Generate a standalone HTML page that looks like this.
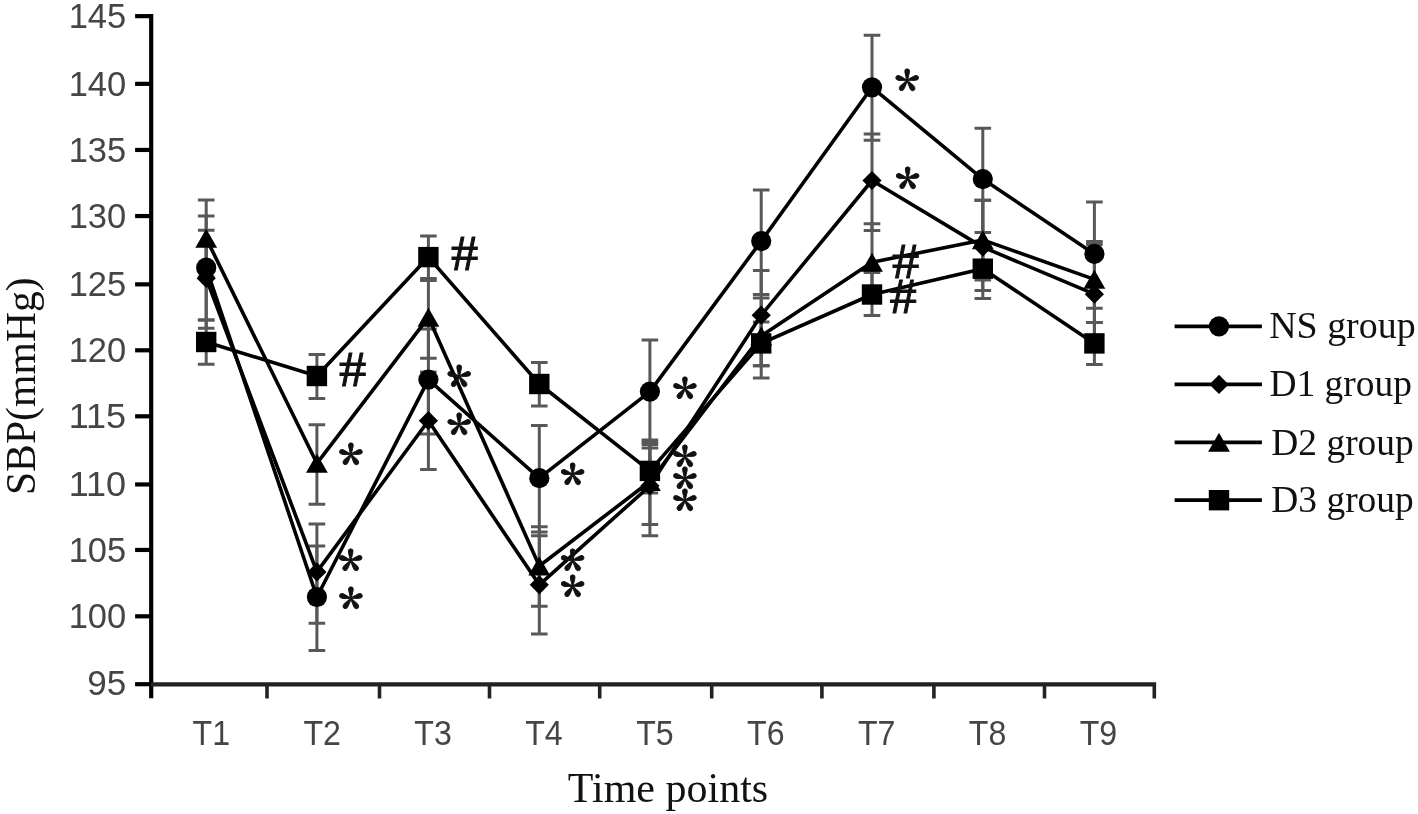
<!DOCTYPE html>
<html lang="en"><head><meta charset="utf-8"><title>SBP chart</title>
<style>html,body{margin:0;padding:0;background:#fff}svg{display:block}.tk{font-family:"Liberation Sans",sans-serif;font-size:35px;fill:#454545}.se{font-family:"Liberation Serif",serif;fill:#111}.st{font-family:"Noto Serif CJK SC","Liberation Serif",serif;font-size:50px;font-weight:bold;fill:#111;stroke:#111;stroke-width:0.9px}</style></head><body>
<svg width="1418" height="814" viewBox="0 0 1418 814">
<rect width="1418" height="814" fill="#fff"/>
<g stroke="#000" stroke-width="4.2" fill="none">
<path d="M151.2 14.1 V698.3"/>
<path d="M135.1 16.15 H151.0"/>
<path d="M135.1 83.85 H151.0"/>
<path d="M135.1 149.95 H151.0"/>
<path d="M135.1 216.05 H151.0"/>
<path d="M135.1 284.35 H151.0"/>
<path d="M135.1 350.30 H151.0"/>
<path d="M135.1 416.30 H151.0"/>
<path d="M135.1 484.45 H151.0"/>
<path d="M135.1 549.95 H151.0"/>
<path d="M135.1 616.30 H151.0"/>
<path d="M135.1 684.20 H151.0"/>
</g>
<g stroke="#222" fill="none">
<path d="M151.0 684.3 H1156.1" stroke-width="4.2"/>
<path d="M267 684.3 V698.5" stroke-width="3.6"/>
<path d="M379.5 684.3 V698.5" stroke-width="3.6"/>
<path d="M489.5 684.3 V698.5" stroke-width="3.6"/>
<path d="M599.7 684.3 V698.5" stroke-width="3.6"/>
<path d="M711.7 684.3 V698.5" stroke-width="3.6"/>
<path d="M821.9 684.3 V698.5" stroke-width="3.6"/>
<path d="M933.9 684.3 V698.5" stroke-width="3.6"/>
<path d="M1044.5 684.3 V698.5" stroke-width="3.6"/>
<path d="M1154.3 684.3 V698.5" stroke-width="3.6"/>
</g>
<text class="tk" x="126.2" y="28.1" text-anchor="end" textLength="57.5" lengthAdjust="spacingAndGlyphs">145</text>
<text class="tk" x="126.2" y="95.8" text-anchor="end" textLength="57.5" lengthAdjust="spacingAndGlyphs">140</text>
<text class="tk" x="126.2" y="161.9" text-anchor="end" textLength="57.5" lengthAdjust="spacingAndGlyphs">135</text>
<text class="tk" x="126.2" y="228.1" text-anchor="end" textLength="57.5" lengthAdjust="spacingAndGlyphs">130</text>
<text class="tk" x="126.2" y="296.4" text-anchor="end" textLength="57.5" lengthAdjust="spacingAndGlyphs">125</text>
<text class="tk" x="126.2" y="362.3" text-anchor="end" textLength="57.5" lengthAdjust="spacingAndGlyphs">120</text>
<text class="tk" x="126.2" y="428.3" text-anchor="end" textLength="57.5" lengthAdjust="spacingAndGlyphs">115</text>
<text class="tk" x="126.2" y="496.4" text-anchor="end" textLength="57.5" lengthAdjust="spacingAndGlyphs">110</text>
<text class="tk" x="126.2" y="562.0" text-anchor="end" textLength="57.5" lengthAdjust="spacingAndGlyphs">105</text>
<text class="tk" x="126.2" y="628.3" text-anchor="end" textLength="57.5" lengthAdjust="spacingAndGlyphs">100</text>
<text class="tk" x="126.2" y="695.0" text-anchor="end" textLength="39" lengthAdjust="spacingAndGlyphs">95</text>
<text class="tk" x="211.3" y="745.3" text-anchor="middle" textLength="37.5" lengthAdjust="spacingAndGlyphs">T1</text>
<text class="tk" x="322.2" y="745.3" text-anchor="middle" textLength="37.5" lengthAdjust="spacingAndGlyphs">T2</text>
<text class="tk" x="433.1" y="745.3" text-anchor="middle" textLength="37.5" lengthAdjust="spacingAndGlyphs">T3</text>
<text class="tk" x="544.0" y="745.3" text-anchor="middle" textLength="37.5" lengthAdjust="spacingAndGlyphs">T4</text>
<text class="tk" x="654.9" y="745.3" text-anchor="middle" textLength="37.5" lengthAdjust="spacingAndGlyphs">T5</text>
<text class="tk" x="765.8" y="745.3" text-anchor="middle" textLength="37.5" lengthAdjust="spacingAndGlyphs">T6</text>
<text class="tk" x="876.7" y="745.3" text-anchor="middle" textLength="37.5" lengthAdjust="spacingAndGlyphs">T7</text>
<text class="tk" x="987.6" y="745.3" text-anchor="middle" textLength="37.5" lengthAdjust="spacingAndGlyphs">T8</text>
<text class="tk" x="1098.5" y="745.3" text-anchor="middle" textLength="37.5" lengthAdjust="spacingAndGlyphs">T9</text>
<text class="se" x="668" y="802.3" text-anchor="middle" font-size="42">Time points</text>
<text class="se" transform="translate(34.6 386.2) rotate(-90)" text-anchor="middle" font-size="41.7">SBP(mmHg)</text>
<g stroke="#585858" stroke-width="3" fill="none">
<path d="M206.2 216 V319.9 M197.89999999999998 216 H214.5 M197.89999999999998 319.9 H214.5"/>
<path d="M316.9 546 V650.5 M308.59999999999997 546 H325.2 M308.59999999999997 650.5 H325.2"/>
<path d="M428.4 329 V434 M420.09999999999997 329 H436.7 M420.09999999999997 434 H436.7"/>
<path d="M539.3 425.6 V532 M531.0 425.6 H547.5999999999999 M531.0 532 H547.5999999999999"/>
<path d="M649.9 340 V442 M641.6 340 H658.1999999999999 M641.6 442 H658.1999999999999"/>
<path d="M761.2 190 V294.4 M752.9000000000001 190 H769.5 M752.9000000000001 294.4 H769.5"/>
<path d="M872.0 35.3 V140.3 M863.7 35.3 H880.3 M863.7 140.3 H880.3"/>
<path d="M982.8 128.3 V232.4 M974.5 128.3 H991.0999999999999 M974.5 232.4 H991.0999999999999"/>
<path d="M1094.4 202 V308.3 M1086.1000000000001 202 H1102.7 M1086.1000000000001 308.3 H1102.7"/>
<path d="M206.2 230.2 V328.2 M197.89999999999998 230.2 H214.5 M197.89999999999998 328.2 H214.5"/>
<path d="M316.9 523.9 V623.3 M308.59999999999997 523.9 H325.2 M308.59999999999997 623.3 H325.2"/>
<path d="M428.4 372 V469.5 M420.09999999999997 372 H436.7 M420.09999999999997 469.5 H436.7"/>
<path d="M539.3 535.8 V633.9 M531.0 535.8 H547.5999999999999 M531.0 633.9 H547.5999999999999"/>
<path d="M649.9 444.5 V535.8 M641.6 444.5 H658.1999999999999 M641.6 535.8 H658.1999999999999"/>
<path d="M761.2 270.6 V365.8 M752.9000000000001 270.6 H769.5 M752.9000000000001 365.8 H769.5"/>
<path d="M872.0 134 V230.4 M863.7 134 H880.3 M863.7 230.4 H880.3"/>
<path d="M982.8 200.3 V298.6 M974.5 200.3 H991.0999999999999 M974.5 298.6 H991.0999999999999"/>
<path d="M1094.4 244.6 V340 M1086.1000000000001 244.6 H1102.7 M1086.1000000000001 340 H1102.7"/>
<path d="M206.2 200.1 V276.7 M197.89999999999998 200.1 H214.5 M197.89999999999998 276.7 H214.5"/>
<path d="M316.9 424.8 V504.2 M308.59999999999997 424.8 H325.2 M308.59999999999997 504.2 H325.2"/>
<path d="M428.4 280.5 V358.2 M420.09999999999997 280.5 H436.7 M420.09999999999997 358.2 H436.7"/>
<path d="M539.3 526.7 V606.3 M531.0 526.7 H547.5999999999999 M531.0 606.3 H547.5999999999999"/>
<path d="M649.9 440 V524.6 M641.6 440 H658.1999999999999 M641.6 524.6 H658.1999999999999"/>
<path d="M761.2 298 V378 M752.9000000000001 298 H769.5 M752.9000000000001 378 H769.5"/>
<path d="M872.0 223.7 V301 M863.7 223.7 H880.3 M863.7 301 H880.3"/>
<path d="M982.8 200.3 V279.9 M974.5 200.3 H991.0999999999999 M974.5 279.9 H991.0999999999999"/>
<path d="M1094.4 241.6 V322.4 M1086.1000000000001 241.6 H1102.7 M1086.1000000000001 322.4 H1102.7"/>
<path d="M206.2 319.9 V364.2 M197.89999999999998 319.9 H214.5 M197.89999999999998 364.2 H214.5"/>
<path d="M316.9 354.4 V398.5 M308.59999999999997 354.4 H325.2 M308.59999999999997 398.5 H325.2"/>
<path d="M428.4 236.1 V278.5 M420.09999999999997 236.1 H436.7 M420.09999999999997 278.5 H436.7"/>
<path d="M539.3 362.4 V406 M531.0 362.4 H547.5999999999999 M531.0 406 H547.5999999999999"/>
<path d="M649.9 448 V493 M641.6 448 H658.1999999999999 M641.6 493 H658.1999999999999"/>
<path d="M761.2 322 V365.8 M752.9000000000001 322 H769.5 M752.9000000000001 365.8 H769.5"/>
<path d="M872.0 272.5 V315.6 M863.7 272.5 H880.3 M863.7 315.6 H880.3"/>
<path d="M982.8 246.5 V290.6 M974.5 246.5 H991.0999999999999 M974.5 290.6 H991.0999999999999"/>
<path d="M1094.4 322.4 V364.6 M1086.1000000000001 322.4 H1102.7 M1086.1000000000001 364.6 H1102.7"/>
</g>
<polyline points="206.2,267.7 316.9,597 428.4,379.6 539.3,478.2 649.9,391.6 761.2,241.1 872.0,87.3 982.8,179.1 1094.4,253.9" fill="none" stroke="#000" stroke-width="3.6" stroke-linejoin="round"/>
<polyline points="206.2,278.3 316.9,571.9 428.4,420.7 539.3,584.8 649.9,485.8 761.2,315.2 872.0,180.5 982.8,247.1 1094.4,294.2" fill="none" stroke="#000" stroke-width="3.6" stroke-linejoin="round"/>
<polyline points="206.2,238.4 316.9,463.3 428.4,317.3 539.3,566 649.9,481.5 761.2,336 872.0,262.3 982.8,239.9 1094.4,279.4" fill="none" stroke="#000" stroke-width="3.6" stroke-linejoin="round"/>
<polyline points="206.2,342 316.9,376 428.4,257.1 539.3,384 649.9,470.9 761.2,343.4 872.0,294.5 982.8,268.7 1094.4,343.4" fill="none" stroke="#000" stroke-width="3.6" stroke-linejoin="round"/>
<g fill="#000">
<circle cx="206.2" cy="267.7" r="10.1"/>
<circle cx="316.9" cy="597" r="10.1"/>
<circle cx="428.4" cy="379.6" r="10.1"/>
<circle cx="539.3" cy="478.2" r="10.1"/>
<circle cx="649.9" cy="391.6" r="10.1"/>
<circle cx="761.2" cy="241.1" r="10.1"/>
<circle cx="872.0" cy="87.3" r="10.1"/>
<circle cx="982.8" cy="179.1" r="10.1"/>
<circle cx="1094.4" cy="253.9" r="10.1"/>
<path d="M206.2 268.7 L215.79999999999998 278.3 L206.2 287.90000000000003 L196.6 278.3 Z"/>
<path d="M316.9 562.3 L326.5 571.9 L316.9 581.5 L307.29999999999995 571.9 Z"/>
<path d="M428.4 411.09999999999997 L438.0 420.7 L428.4 430.3 L418.79999999999995 420.7 Z"/>
<path d="M539.3 575.1999999999999 L548.9 584.8 L539.3 594.4 L529.6999999999999 584.8 Z"/>
<path d="M649.9 476.2 L659.5 485.8 L649.9 495.40000000000003 L640.3 485.8 Z"/>
<path d="M761.2 305.59999999999997 L770.8000000000001 315.2 L761.2 324.8 L751.6 315.2 Z"/>
<path d="M872.0 170.9 L881.6 180.5 L872.0 190.1 L862.4 180.5 Z"/>
<path d="M982.8 237.5 L992.4 247.1 L982.8 256.7 L973.1999999999999 247.1 Z"/>
<path d="M1094.4 284.59999999999997 L1104.0 294.2 L1094.4 303.8 L1084.8000000000002 294.2 Z"/>
<path d="M206.2 228.8 L217.1 247.8 L195.29999999999998 247.8 Z"/>
<path d="M316.9 453.7 L327.79999999999995 472.7 L306.0 472.7 Z"/>
<path d="M428.4 307.7 L439.29999999999995 326.7 L417.5 326.7 Z"/>
<path d="M539.3 556.4 L550.1999999999999 575.4 L528.4 575.4 Z"/>
<path d="M649.9 471.9 L660.8 490.9 L639.0 490.9 Z"/>
<path d="M761.2 326.4 L772.1 345.4 L750.3000000000001 345.4 Z"/>
<path d="M872.0 252.70000000000002 L882.9 271.7 L861.1 271.7 Z"/>
<path d="M982.8 230.3 L993.6999999999999 249.3 L971.9 249.3 Z"/>
<path d="M1094.4 269.79999999999995 L1105.3000000000002 288.79999999999995 L1083.5 288.79999999999995 Z"/>
<rect x="196.0" y="331.8" width="20.4" height="20.4"/>
<rect x="306.7" y="365.8" width="20.4" height="20.4"/>
<rect x="418.2" y="246.90000000000003" width="20.4" height="20.4"/>
<rect x="529.0999999999999" y="373.8" width="20.4" height="20.4"/>
<rect x="639.6999999999999" y="460.7" width="20.4" height="20.4"/>
<rect x="751.0" y="333.2" width="20.4" height="20.4"/>
<rect x="861.8" y="284.3" width="20.4" height="20.4"/>
<rect x="972.5999999999999" y="258.5" width="20.4" height="20.4"/>
<rect x="1084.2" y="333.2" width="20.4" height="20.4"/>
</g>
<text class="st" x="338.8" y="484.4">*</text>
<text class="st" x="338.6" y="590.2">*</text>
<text class="st" x="338.8" y="628.2">*</text>
<text class="st" x="446.9" y="405.9">*</text>
<text class="st" x="446.9" y="454.1">*</text>
<text class="st" x="560.5" y="503.8">*</text>
<text class="st" x="560.5" y="589.6">*</text>
<text class="st" x="560.5" y="616.1">*</text>
<text class="st" x="672.7" y="417.7">*</text>
<text class="st" x="672.7" y="485.5">*</text>
<text class="st" x="672.7" y="507.6">*</text>
<text class="st" x="672.7" y="529.5">*</text>
<text class="st" x="895.1" y="109.6">*</text>
<text class="st" x="895.4" y="208.2">*</text>
<text class="se" transform="translate(352.6 386) scale(1.06 1)" text-anchor="middle" font-size="51.5" stroke="#111" stroke-width="1">#</text>
<text class="se" transform="translate(464.7 270) scale(1.06 1)" text-anchor="middle" font-size="51.5" stroke="#111" stroke-width="1">#</text>
<text class="se" transform="translate(905.7 278.1) scale(1.06 1)" text-anchor="middle" font-size="51.5" stroke="#111" stroke-width="1">#</text>
<text class="se" transform="translate(903.2 312.7) scale(1.06 1)" text-anchor="middle" font-size="51.5" stroke="#111" stroke-width="1">#</text>
<path d="M1174.6 326.3 H1261.9" stroke="#000" stroke-width="3.8"/>
<g fill="#000"><circle cx="1219" cy="326.3" r="10.1"/></g>
<text class="se" transform="translate(1269.2 338.2) scale(1.025 1)" font-size="37">NS group</text>
<path d="M1174.6 384.4 H1261.9" stroke="#000" stroke-width="3.8"/>
<g fill="#000"><path d="M1219 374.79999999999995 L1228.6 384.4 L1219 394.0 L1209.4 384.4 Z"/></g>
<text class="se" transform="translate(1269.4 396.2) scale(1.012 1)" font-size="37">D1 group</text>
<path d="M1174.6 442.4 H1261.9" stroke="#000" stroke-width="3.8"/>
<g fill="#000"><path d="M1219 432.79999999999995 L1229.9 451.79999999999995 L1208.1 451.79999999999995 Z"/></g>
<text class="se" transform="translate(1271.3 454.5) scale(1.012 1)" font-size="37">D2 group</text>
<path d="M1174.6 500.2 H1261.9" stroke="#000" stroke-width="3.8"/>
<g fill="#000"><rect x="1208.8" y="490.0" width="20.4" height="20.4"/></g>
<text class="se" transform="translate(1271.3 511.90000000000003) scale(1.012 1)" font-size="37">D3 group</text>
</svg></body></html>
